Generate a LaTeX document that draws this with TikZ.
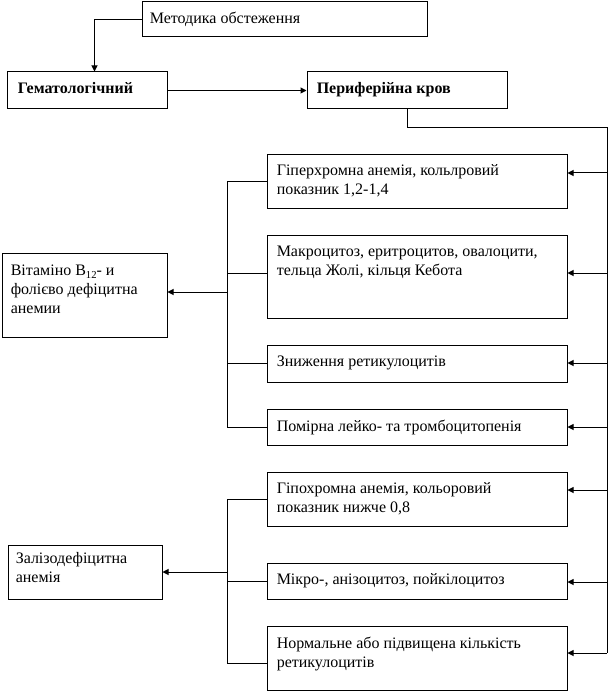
\documentclass[tikz,border=0pt]{standalone}
\usepackage{fontspec}
\setmainfont{Liberation Serif}
\usetikzlibrary{arrows.meta,calc,fit}
\begin{document}
\begin{tikzpicture}[x=0.75pt,y=-0.75pt,
  box/.style={draw, line width=0.75pt, rectangle, inner sep=0pt},
  txt/.style={anchor=north west, inner sep=0pt, align=left, font=\fontsize{12}{14.25}\selectfont},
  btxt/.style={txt, font=\fontsize{12}{14.25}\selectfont\bfseries},
  conn/.style={line width=0.75pt},
  arr/.style={line width=0.75pt, -{Triangle[length=4.5pt,width=4.5pt]}}]
\useasboundingbox (0,0) rectangle (609,691);

% boxes
\node[box, fit={(142,2) (427,37)}] (m) {};
\node[box, fit={(7,72) (167,109)}] (g) {};
\node[box, fit={(307,72) (507,109)}] (p) {};
\node[box, fit={(267,155) (567,209)}] (b1) {};
\node[box, fit={(267,236) (567,318)}] (b2) {};
\node[box, fit={(267,345) (567,382)}] (b3) {};
\node[box, fit={(267,409) (567,445)}] (b4) {};
\node[box, fit={(267,472) (567,526)}] (b5) {};
\node[box, fit={(267,563) (567,599)}] (b6) {};
\node[box, fit={(267,626) (567,690)}] (b7) {};
\node[box, fit={(2,254) (167,337)}] (v) {};
\node[box, fit={(8,545) (162,599)}] (z) {};

% texts
\node[txt] (tm) at ($(m.north west)+(8,10)$) {Методика обстеження};
\node[btxt] (tg) at ($(g.north west)+(11,11)$) {Гематологічний};
\node[btxt] (tp) at ($(p.north west)+(10,11)$) {Периферійна кров};
\node[txt] (t1) at ($(b1.north west)+(10,10)$) {Гіперхромна анемія, кольлровий\\показник 1,2-1,4};
\node[txt] (t2) at ($(b2.north west)+(10,10)$) {Макроцитоз, еритроцитов, овалоцити,\\тельца Жолі, кільця Кебота};
\node[txt] (t3) at ($(b3.north west)+(10,11)$) {Зниження ретикулоцитів};
\node[txt] (t4) at ($(b4.north west)+(10,11)$) {Помірна лейко- та тромбоцитопенія};
\node[txt] (t5) at ($(b5.north west)+(10,11)$) {Гіпохромна анемія, кольоровий\\показник нижче 0,8};
\node[txt] (t6) at ($(b6.north west)+(10,11)$) {Мікро-, анізоцитоз, пойкілоцитоз};
\node[txt] (t7) at ($(b7.north west)+(10,11)$) {Нормальне або підвищена кількість\\ретикулоцитів};
\node[txt] (tv) at ($(v.north west)+(9,11)$) {Вітаміно В\raisebox{-0.45ex}{\fontsize{8}{8}\selectfont 12}- и\\фолієво дефіцитна\\анемии};
\node[txt] (tz) at ($(z.north west)+(8,8)$) {Залізодефіцитна\\анемія};

% top connectors
\coordinate (gin) at ($(g.north west)+(88,0)$);
\draw[arr] (m.west) -| (gin);
\draw[arr] (g.east) -- (p.west);

% right bus
\coordinate (rt) at (607,128);
\coordinate (rb) at (607,653);
\draw[conn] (p.south) |- (rt) -- (rb);
\coordinate (y1) at (0,173);
\coordinate (y2) at (0,273);
\coordinate (y3) at (0,363);
\coordinate (y4) at (0,427);
\coordinate (y5) at (0,490);
\coordinate (y6) at (0,582);
\draw[arr] (rt |- y1) -- (b1.east |- y1);
\draw[arr] (rt |- y2) -- (b2.east |- y2);
\draw[arr] (rt |- y3) -- (b3.east |- y3);
\draw[arr] (rt |- y4) -- (b4.east |- y4);
\draw[arr] (rt |- y5) -- (b5.east |- y5);
\draw[arr] (rt |- y6) -- (b6.east |- y6);
\draw[arr] (rb) -- (b7.east |- rb);

% left group 1
\coordinate (L1) at (227,182);
\coordinate (L4) at (227,427);
\coordinate (l2) at (0,273);
\coordinate (lv) at (0,292);
\draw[conn] (b1.west |- L1) -- (L1) -- (L4) -- (b4.west |- L4);
\draw[conn] (b2.west |- l2) -- (L1 |- l2);
\draw[conn] (b3.west) -- (L1 |- b3.west);
\draw[arr] (L1 |- lv) -- (v.east |- lv);

% left group 2
\coordinate (M1) at (227,499);
\coordinate (M3) at (227,663);
\draw[conn] (b5.west |- M1) -- (M1) -- (M3) -- (b7.west |- M3);
\draw[conn] (b6.west) -- (M1 |- b6.west);
\draw[arr] (M1 |- z.east) -- (z.east);
\end{tikzpicture}
\end{document}
